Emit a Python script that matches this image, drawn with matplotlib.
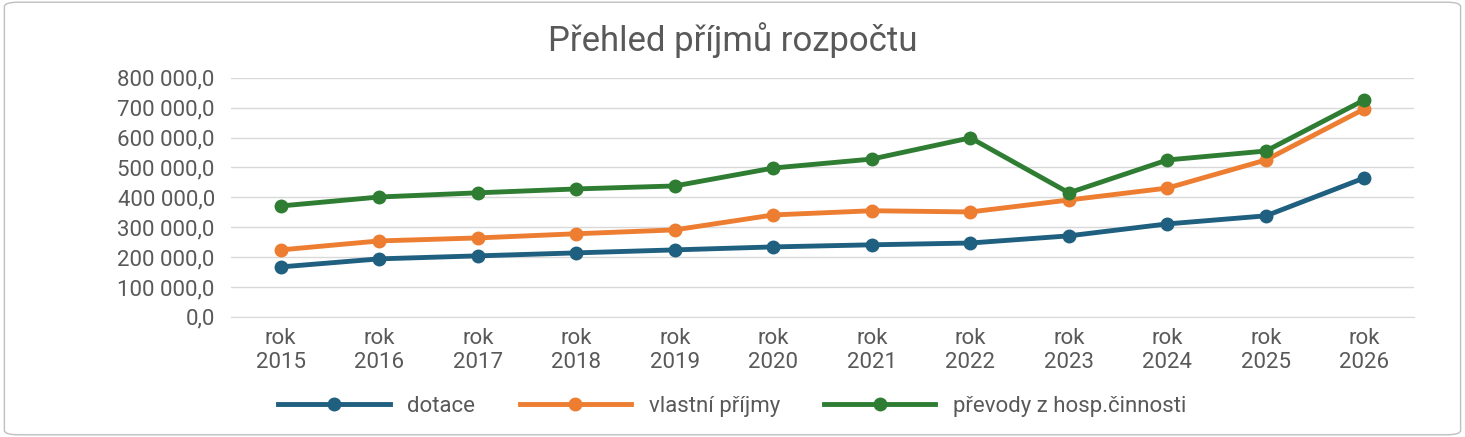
import matplotlib.pyplot as plt
from matplotlib.ticker import FuncFormatter
from matplotlib.patches import FancyBboxPatch

plt.rcParams["font.family"] = ["Roboto", "DejaVu Sans"]

years = ["rok\n2015", "rok\n2016", "rok\n2017", "rok\n2018", "rok\n2019", "rok\n2020",
         "rok\n2021", "rok\n2022", "rok\n2023", "rok\n2024", "rok\n2025", "rok\n2026"]
dotace = [167000, 194000, 204000, 214000, 224000, 234000, 241000, 247000, 271000, 311000, 338000, 465000]
vlastni = [224000, 254000, 264000, 278000, 291000, 341000, 355000, 351000, 391000, 431000, 525000, 696000]
prevody = [371000, 401000, 415000, 428000, 438000, 498000, 528000, 599000, 415000, 525000, 555000, 726000]

series = [
    ("dotace", dotace, "#1f5f7f"),
    ("vlastní příjmy", vlastni, "#ed7d31"),
    ("převody z hosp.činnosti", prevody, "#2e7d32"),
]

fig = plt.figure(figsize=(14.65, 4.37), dpi=100)
border = FancyBboxPatch((0.003, 0.005), 0.994, 0.99, boxstyle="round,pad=0,rounding_size=0.01",
                        transform=fig.transFigure, fc="white", ec="#bfbfbf", lw=1, zorder=-10)
fig.patches.append(border)
ax = fig.add_axes([0.158, 0.275, 0.807, 0.547])
ax.set_facecolor("none")
x = range(len(years))
for name, vals, c in series:
    ax.plot(x, vals, color=c, lw=3.5, marker="o", ms=9, label=name, zorder=3)

ax.set_ylim(0, 800000)
ax.set_yticks(range(0, 800001, 100000))
ax.set_xlim(-0.5, len(years) - 0.5)
ax.set_xticks(list(x))
ax.set_xticklabels(years)


def fmt(v, _):
    return f"{v:,.1f}".replace(",", " ").replace(".", ",")


ax.yaxis.set_major_formatter(FuncFormatter(fmt))
ax.grid(axis="y", color="#d9d9d9", lw=1)
for s in ax.spines.values():
    s.set_visible(False)
ax.spines["bottom"].set_visible(True)
ax.spines["bottom"].set_color("#d9d9d9")
ax.tick_params(length=0, labelsize=16, colors="#595959", pad=8)
ax.tick_params(axis="y", pad=12)

fig.suptitle("Přehled příjmů rozpočtu", fontsize=25, color="#595959", y=0.95)
fig.legend(loc="lower center", ncol=3, frameon=False, fontsize=16, bbox_to_anchor=(0.5, 0.0),
           handlelength=5, columnspacing=2, labelcolor="#595959")
fig.savefig("out.png", dpi=100)
